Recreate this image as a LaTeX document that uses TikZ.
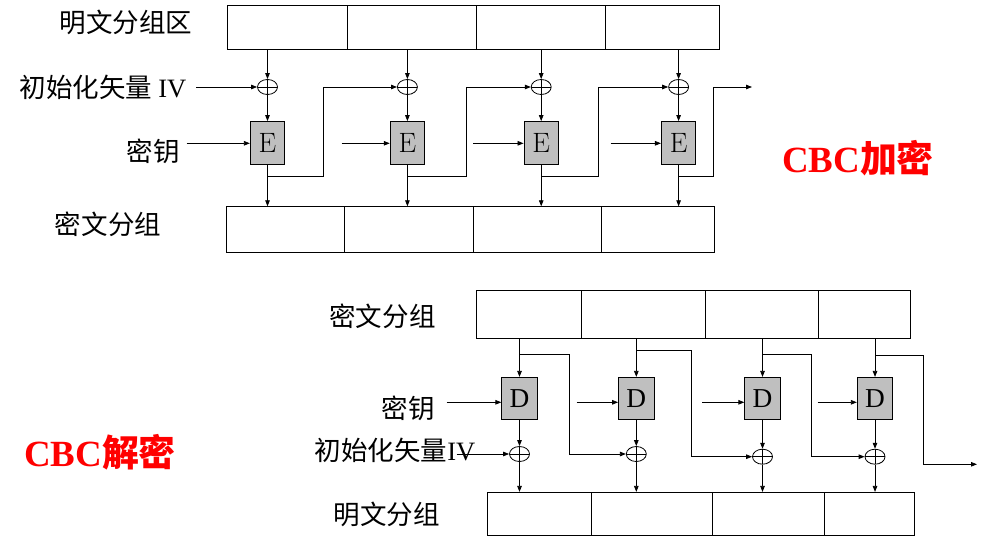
\documentclass[tikz,border=0pt]{standalone}
\usepackage{fontspec}
\newfontfamily\cjk{Noto Sans CJK SC}
\newfontfamily\tnr{Liberation Serif}
\usetikzlibrary{arrows.meta,shapes.geometric}
\tikzset{
  ln/.style={line width=0.6pt},
  arr/.style={ln,-{Triangle[length=4.5pt,width=3.4pt]}},
  cell/.style 2 args={draw,ln,inner sep=0pt,minimum width=#1*0.75pt,minimum height=#2*0.75pt},
  ebox/.style={draw,ln,fill=black!25,inner sep=0pt,minimum width=34.5*0.75pt,minimum height=43*0.75pt,font=\fontsize{21pt}{24pt}\selectfont},
  dbox/.style={draw,ln,fill=black!25,inner sep=0pt,minimum width=35.5*0.75pt,minimum height=42*0.75pt,font=\fontsize{20.5pt}{24pt}\selectfont\tnr},
  xor/.style={ellipse,draw,ln,inner sep=0pt,minimum width=20*0.75pt,minimum height=15*0.75pt,
    path picture={\draw[ln] (path picture bounding box.north) -- (path picture bounding box.south)
      (path picture bounding box.west) -- (path picture bounding box.east);}},
  lbl/.style={inner sep=0pt,font=\fontsize{19.9pt}{24pt}\selectfont\cjk},
  big/.style={inner sep=0pt,text=red,font=\fontsize{27.7pt}{32pt}\selectfont\bfseries},
}
\begin{document}
\begin{tikzpicture}[x=0.75pt,y=-0.75pt]
\useasboundingbox (0,0) rectangle (1006,553);
% ---------- encryption ----------
\node[cell={120}{44.3}]   (P1) at (287,27.2) {};
\node[cell={129}{44.3}]   (P2) at (411.5,27.2) {};
\node[cell={129.3}{44.3}] (P3) at (540.65,27.2) {};
\node[cell={114}{44.3}]   (P4) at (662.3,27.2) {};
\node[cell={118}{45.6}]   (C1) at (285,229.5) {};
\node[cell={129.5}{45.6}] (C2) at (408.75,229.5) {};
\node[cell={128}{45.6}]   (C3) at (537.5,229.5) {};
\node[cell={113}{45.6}]   (C4) at (658,229.5) {};
\node[xor] (X1) at (267.5,87) {};
\node[xor] (X2) at (407.4,87) {};
\node[xor] (X3) at (541.2,87) {};
\node[xor] (X4) at (678.6,87) {};
\node[ebox] (E1) at (267.5,143) {E};
\node[ebox] (E2) at (407.4,143) {E};
\node[ebox] (E3) at (541.2,143) {E};
\node[ebox] (E4) at (678.6,143) {E};
\foreach \i in {1,...,4}{
  \draw[arr] (X\i |- P\i.south) -- (X\i.north);
  \draw[arr] (X\i.south) -- (E\i.north);
  \draw[arr] (E\i.south) -- (E\i |- C\i.north);
}
\coordinate (f1) at (323.3,176.5);
\coordinate (f2) at (466.7,176.5);
\coordinate (f3) at (598.3,176.5);
\coordinate (f4) at (713.3,176.5);
\coordinate (out1) at (752,87);
\draw[arr] (E1 |- f1) -- (f1) |- (X2.west);
\draw[arr] (E2 |- f2) -- (f2) |- (X3.west);
\draw[arr] (E3 |- f3) -- (f3) |- (X4.west);
\draw[arr] (E4 |- f4) -- (f4) |- (out1);
\coordinate (k1) at (186.7,143.3);
\coordinate (k2) at (341.7,143.3);
\coordinate (k3) at (473,143.3);
\coordinate (k4) at (610.7,143.3);
\foreach \i in {1,...,4}{ \draw[arr] (k\i) -- (k\i -| E\i.west); }
\coordinate (iv1) at (196,87);
\draw[arr] (iv1) -- (X1.west);
\node[lbl] (L1) at (126,22.5) {明文分组区};
\node[lbl] (L2) at (103,87) {初始化矢量 {\tnr IV}};
\node[lbl] (L3) at (153,151.5) {密钥};
\node[lbl] (L4) at (108,224) {密文分组};
\node[big] (L5) at (858,158) {{\tnr CBC}{\cjk 加密}};
% ---------- decryption ----------
\node[cell={105}{47.6}]   (K1) at (528.8,314.5) {};
\node[cell={124.2}{47.6}] (K2) at (643.4,314.5) {};
\node[cell={113.2}{47.6}] (K3) at (762.1,314.5) {};
\node[cell={92}{47.6}]    (K4) at (864.7,314.5) {};
\node[cell={104}{42.7}]   (Q1) at (539.7,513.65) {};
\node[cell={121.1}{42.7}] (Q2) at (652.25,513.65) {};
\node[cell={111.5}{42.7}] (Q3) at (768.55,513.65) {};
\node[cell={90}{42.7}]    (Q4) at (869.3,513.65) {};
\node[dbox] (D1) at (519.5,398.3) {D};
\node[dbox] (D2) at (636.3,398.3) {D};
\node[dbox] (D3) at (762.5,398.3) {D};
\node[dbox] (D4) at (875,398.3) {D};
\node[xor] (Y1) at (519.5,454) {};
\node[xor] (Y2) at (636.3,454) {};
\node[xor] (Y3) at (762.5,456.7) {};
\node[xor] (Y4) at (875,456.7) {};
\foreach \i in {1,...,4}{
  \draw[arr] (D\i |- K\i.south) -- (D\i.north);
  \draw[arr] (D\i.south) -- (Y\i.north);
  \draw[arr] (Y\i.south) -- (Y\i |- Q\i.north);
}
\coordinate (b1) at (569,354);
\coordinate (b2) at (691.7,350.3);
\coordinate (b3) at (811.7,354.3);
\coordinate (b4) at (923,355.3);
\coordinate (out2) at (977,464.3);
\draw[arr] (D1 |- b1) -- (b1) |- (Y2.west);
\draw[arr] (D2 |- b2) -- (b2) |- (Y3.west);
\draw[arr] (D3 |- b3) -- (b3) |- (Y4.west);
\draw[arr] (D4 |- b4) -- (b4) |- (out2);
\coordinate (kk1) at (446.7,402.3);
\coordinate (kk2) at (576.7,402.3);
\coordinate (kk3) at (702,402.3);
\coordinate (kk4) at (817.7,402.3);
\foreach \i in {1,...,4}{ \draw[arr] (kk\i) -- (kk\i -| D\i.west); }
\node[lbl] (L6) at (382.5,316) {密文分组};
\node[lbl] (L7) at (408,408) {密钥};
\node[lbl] (L8) at (395,450) {初始化矢量{\tnr IV}};
\node[lbl] (L9) at (386.7,514) {明文分组};
\node[big] (L10) at (100,452) {{\tnr CBC}{\cjk 解密}};
\coordinate (ivb) at (456.7,454);
\draw[arr] (ivb) -- (Y1.west);
\end{tikzpicture}
\end{document}
